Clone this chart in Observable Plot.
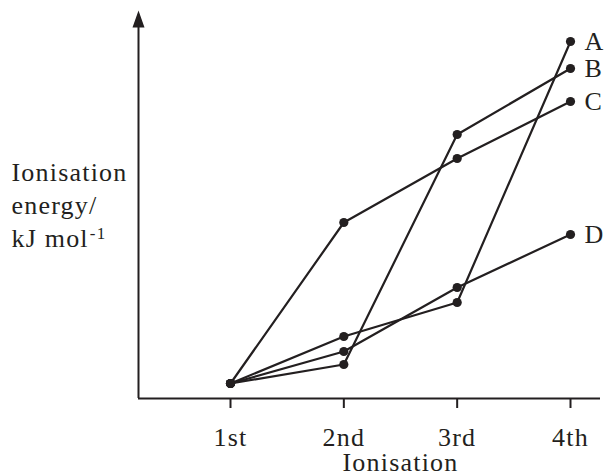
<!DOCTYPE html>
<html>
<head>
<meta charset="utf-8">
<script src="https://cdn.jsdelivr.net/npm/d3@7"></script>
<script src="https://cdn.jsdelivr.net/npm/@observablehq/plot@0.6"></script>
<style>
  html, body { margin: 0; padding: 0; background: #fff; }
</style>
</head>
<body>
<div id="chart"></div>
<script>
// Categories (x axis)
const stages = ["1st", "2nd", "3rd", "4th"];
// Series names
const elements = ["A", "B", "C", "D"];
// Ionisation energies (arbitrary units)
const energyA = [15, 62, 96, 357];
const energyB = [15, 34, 264, 330];
const energyC = [15, 176, 240, 297];
const energyD = [15, 47, 111, 164];
const yLabelLines = ["Ionisation", "energy/", "kJ mol"];
const yLabelSup = "-1";
const xLabel = "Ionisation";

const seriesValues = [energyA, energyB, energyC, energyD];
const data = [];
elements.forEach((el, i) => {
  seriesValues[i].forEach((v, j) => data.push({element: el, stage: j + 1, energy: v}));
});
const lastPoints = data.filter(d => d.stage === stages.length);

const ink = "#231f20";
const font = "'Liberation Serif', 'Times New Roman', serif";

// frame geometry
const W = 608, H = 475, mL = 138, mR = 8, mT = 10, mB = 77;
// x: 1st..4th placed at 230..570 px within a frame of 138..600
const step = (570 - 230) / 3;
const xMin = 1 - (230 - mL) / step;
const xMax = 4 + (W - mR - 570) / step;
const yMax = H - mB - mT;

// narrow upward triangle for the arrow head (tip at -h, base at 0)
const arrowHead = {
  draw(ctx, size) {
    const w = 6, h = 17;
    ctx.moveTo(0, -h);
    ctx.lineTo(w, 0);
    ctx.lineTo(-w, 0);
    ctx.closePath();
  }
};

const chart = Plot.plot({
  width: W,
  height: H,
  marginLeft: mL,
  marginRight: mR,
  marginTop: mT,
  marginBottom: mB,
  style: {fontFamily: font, fontSize: "26px", color: ink, background: "white", letterSpacing: "1.2px"},
  x: {domain: [xMin, xMax]},
  y: {domain: [0, yMax], axis: null},
  marks: [
    // axes lines
    Plot.ruleY([0], {stroke: ink, strokeWidth: 2}),
    Plot.ruleX([xMin], {y1: 0, y2: yMax - 17, stroke: ink, strokeWidth: 2}),
    Plot.dot([xMin], {x: d => d, y: () => yMax - 17, symbol: arrowHead, r: 6, fill: ink, stroke: "none"}),
    Plot.axisX({
      ticks: d3.range(1, stages.length + 1),
      tickFormat: i => stages[i - 1],
      tickSize: 10,
      tickPadding: 19,
      fontSize: 26,
      stroke: ink,
      strokeWidth: 2,
      label: null
    }),
    // x label
    Plot.text([xLabel], {x: () => 2.5, frameAnchor: "bottom", dy: 72, text: d => d, fontSize: 26, fill: ink}),
    // y label
    Plot.text([yLabelLines.join("\n")], {
      frameAnchor: "left", dx: -(mL - 11), dy: -1, text: d => d, textAnchor: "start",
      lineHeight: 1.26, fontSize: 26, fill: ink, className: "ylabel"
    }),
    // series
    Plot.line(data, {x: "stage", y: "energy", z: "element", stroke: ink, strokeWidth: 2.2}),
    Plot.dot(data, {x: "stage", y: "energy", r: 4.6, fill: ink, stroke: "none"}),
    Plot.text(lastPoints, {x: "stage", y: "energy", text: "element", dx: 14, textAnchor: "start", fontSize: 26, fill: ink})
  ]
});
// superscript on the last line of the y label
const lastLine = d3.select(chart).selectAll(".ylabel text tspan").filter((d, i, n) => i === n.length - 1);
lastLine.append("tspan")
  .attr("dy", "-0.45em")
  .attr("dx", "1")
  .attr("font-size", 17)
  .text(yLabelSup);
document.getElementById("chart").append(chart);
</script>
</body>
</html>
